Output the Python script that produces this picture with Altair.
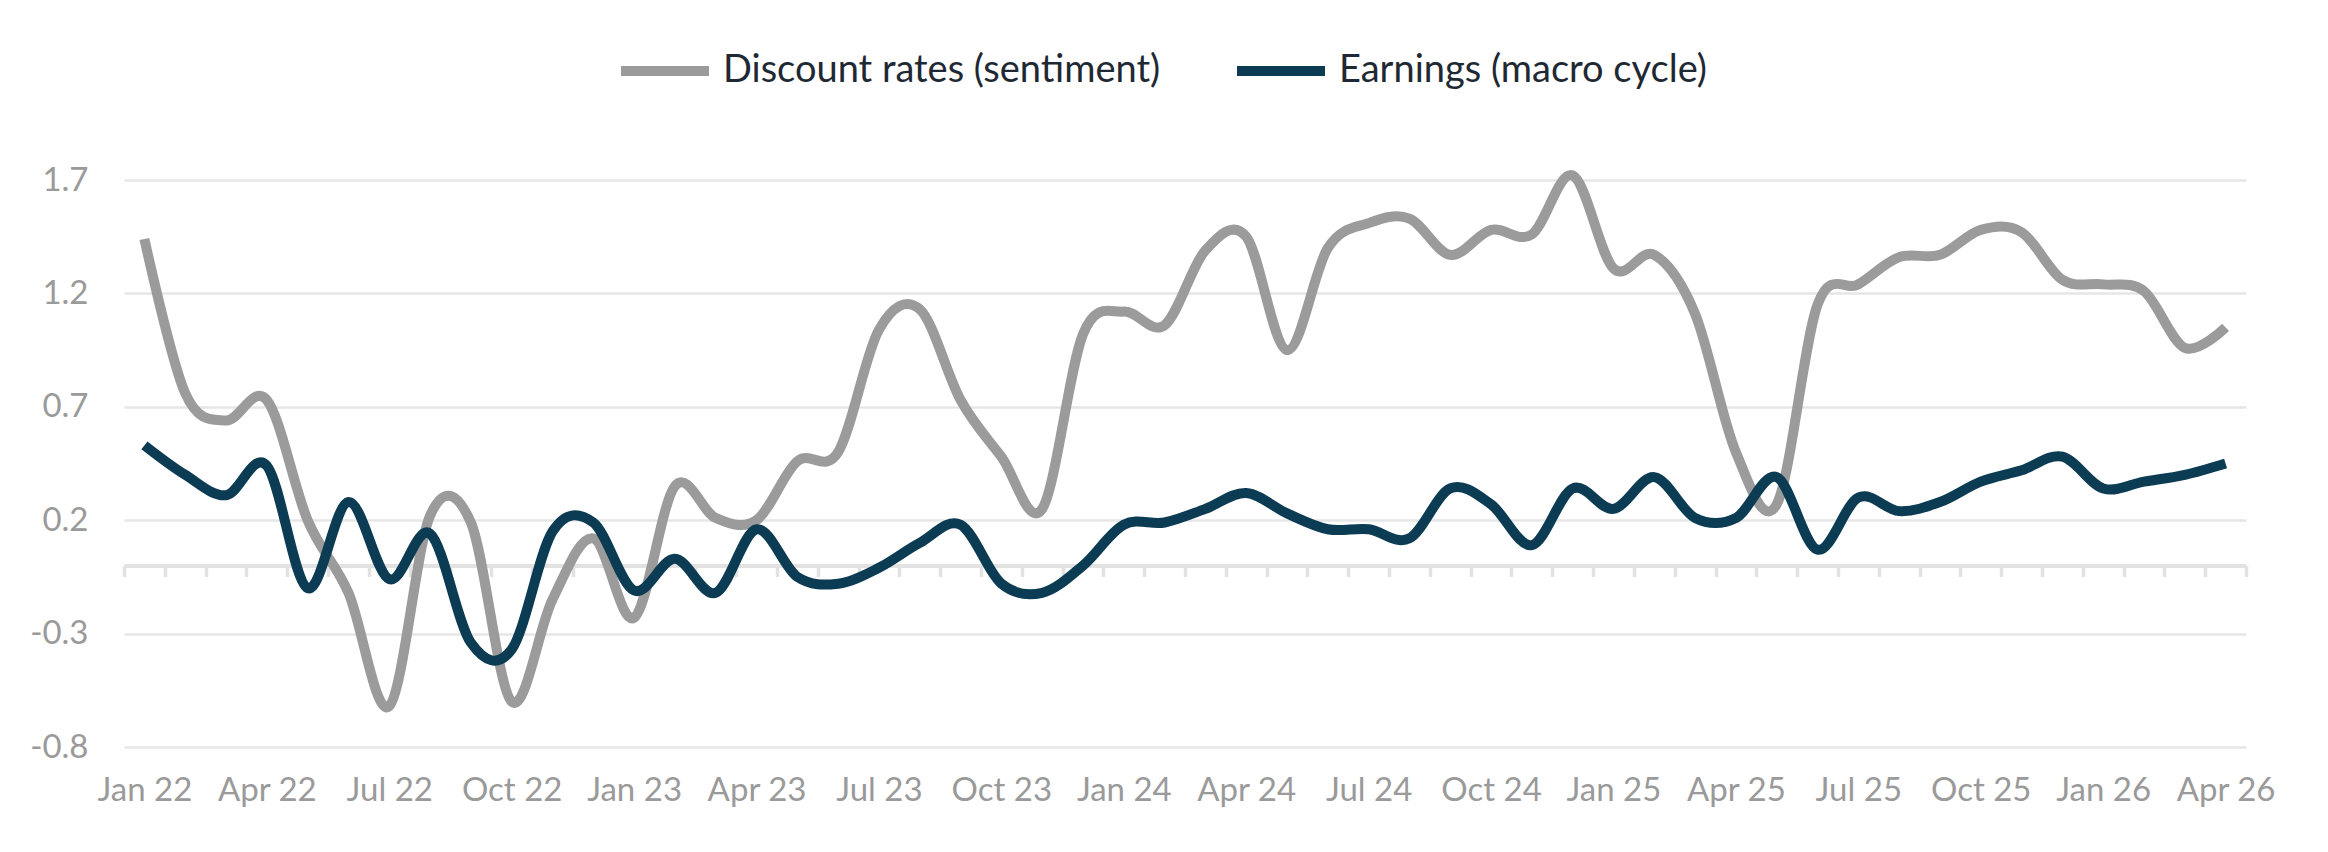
import json
import altair as alt
import pandas as pd

months = [
    "Jan 22", "Feb 22", "Mar 22", "Apr 22", "May 22", "Jun 22", "Jul 22", "Aug 22", "Sep 22", "Oct 22", "Nov 22", "Dec 22",
    "Jan 23", "Feb 23", "Mar 23", "Apr 23", "May 23", "Jun 23", "Jul 23", "Aug 23", "Sep 23", "Oct 23", "Nov 23", "Dec 23",
    "Jan 24", "Feb 24", "Mar 24", "Apr 24", "May 24", "Jun 24", "Jul 24", "Aug 24", "Sep 24", "Oct 24", "Nov 24", "Dec 24",
    "Jan 25", "Feb 25", "Mar 25", "Apr 25", "May 25", "Jun 25", "Jul 25", "Aug 25", "Sep 25", "Oct 25", "Nov 25", "Dec 25",
    "Jan 26", "Feb 26", "Mar 26", "Apr 26",
]

discount_rates = [
    1.44, 0.76, 0.64, 0.73, 0.20, -0.12, -0.62, 0.22, 0.19, -0.60, -0.15, 0.12, -0.23,
    0.35, 0.21, 0.20, 0.46, 0.50, 1.04, 1.13, 0.73, 0.48, 0.25, 1.02, 1.12, 1.06,
    1.39, 1.45, 0.95, 1.40, 1.51, 1.53, 1.37, 1.48, 1.46, 1.72, 1.31, 1.37, 1.11,
    0.50, 0.27, 1.15, 1.24, 1.36, 1.37, 1.48, 1.47, 1.26, 1.24, 1.21, 0.96, 1.05,
]

earnings = [
    0.53, 0.40, 0.31, 0.44, -0.10, 0.28, -0.06, 0.14, -0.34, -0.37, 0.15, 0.19, -0.11,
    0.03, -0.12, 0.16, -0.05, -0.08, -0.01, 0.10, 0.18, -0.08, -0.12, 0.00, 0.18, 0.19,
    0.25, 0.32, 0.23, 0.16, 0.16, 0.12, 0.34, 0.27, 0.09, 0.34, 0.25, 0.39, 0.21,
    0.21, 0.39, 0.07, 0.30, 0.24, 0.28, 0.37, 0.42, 0.48, 0.34, 0.37, 0.40, 0.45,
]

series_names = ["Discount rates (sentiment)", "Earnings (macro cycle)"]
series_colors = ["#9b9b9b", "#0b3c53"]
label_months = ["Jan 22", "Apr 22", "Jul 22", "Oct 22", "Jan 23", "Apr 23", "Jul 23", "Oct 23",
                "Jan 24", "Apr 24", "Jul 24", "Oct 24", "Jan 25", "Apr 25", "Jul 25", "Oct 25",
                "Jan 26", "Apr 26"]
y_ticks = [-0.8, -0.3, 0.2, 0.7, 1.2, 1.7]

rows = []
for name, vals in zip(series_names, [discount_rates, earnings]):
    for m, v in zip(months, vals):
        rows.append({"month": m, "series": name, "value": v})
df = pd.DataFrame(rows)

W, H = 2122, 567
ymin, ymax = -0.8, 1.7
zero_offset = -H * (0 - ymin) / (ymax - ymin)

FONT = "Lato"
AXIS_GREY = "#9a9a9a"

x_label_expr = "indexof(" + json.dumps(label_months) + ", datum.value) >= 0 ? datum.value : ''"

chart = alt.Chart(df).mark_line(
    interpolate="cardinal", tension=0, strokeWidth=10, strokeCap="butt"
).encode(
    x=alt.X(
        "month:N",
        sort=months,
        scale=alt.Scale(type="band", paddingInner=0, paddingOuter=0),
        axis=alt.Axis(
            title=None,
            orient="bottom",
            offset=zero_offset,
            labelExpr=x_label_expr,
            labelAngle=0,
            labelFont=FONT,
            labelFontSize=33,
            labelColor=AXIS_GREY,
            labelPadding=198,
            labelOverlap=False,
            labelBound=False,
            domain=True,
            domainColor="#e2e2e2",
            domainWidth=4,
            ticks=True,
            tickBand="extent",
            tickColor="#e2e2e2",
            tickWidth=3.5,
            tickSize=11,
            grid=False,
        ),
    ),
    y=alt.Y(
        "value:Q",
        scale=alt.Scale(domain=[ymin, ymax], nice=False, zero=False),
        axis=alt.Axis(
            title=None,
            values=y_ticks,
            labelExpr="replace(format(datum.value, '.1f'), '\u2212', '-')",
            labelFont=FONT,
            labelFontSize=33,
            labelColor=AXIS_GREY,
            labelPadding=36,
            domain=False,
            ticks=False,
            grid=True,
            gridColor="#e6e6e6",
            gridWidth=2.5,
        ),
    ),
    color=alt.Color(
        "series:N",
        scale=alt.Scale(domain=series_names, range=series_colors),
        legend=alt.Legend(
            title=None,
            orient="none",
            legendX=492,
            legendY=-158,
            direction="horizontal",
            symbolType="stroke",
            symbolSize=7744,
            symbolStrokeWidth=10,
            labelFont=FONT,
            labelFontSize=38,
            labelColor="#1f2933",
            labelOffset=9,
            labelLimit=2000,
            columnPadding=56,
            padding=0,
        ),
    ),
).properties(
    width=W,
    height=H,
    background="white",
    autosize=alt.AutoSizeParams(type="none"),
    padding={"left": 116, "top": 172, "right": 74, "bottom": 97},
).configure_view(stroke=None)

chart.save("out.html", embed_options={"renderer": "svg", "actions": False})
